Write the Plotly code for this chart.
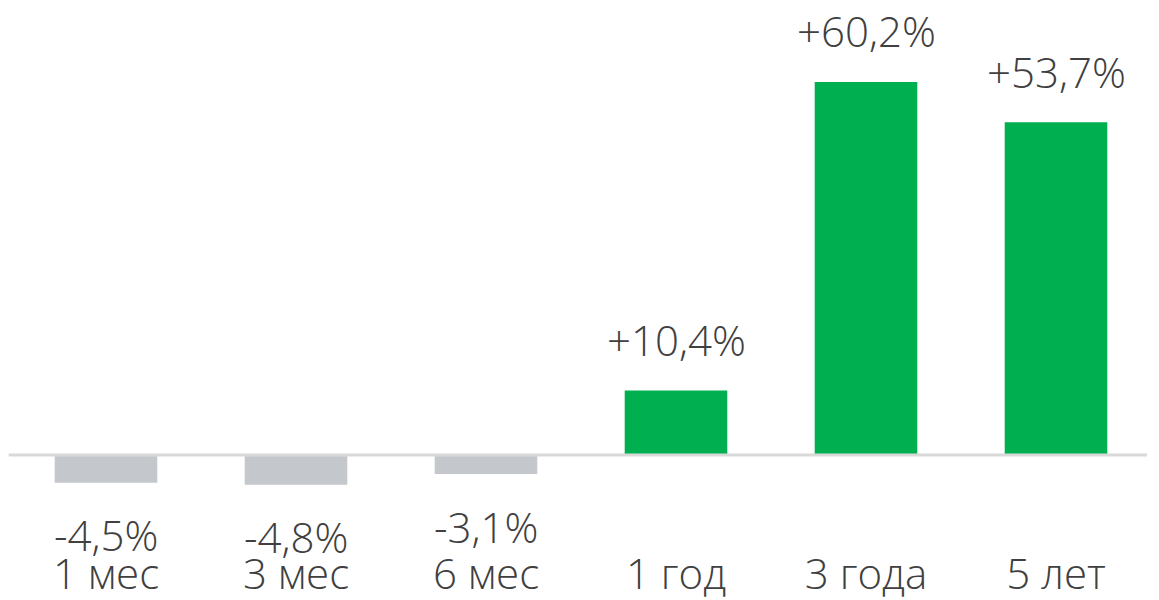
import plotly.graph_objects as go

categories = ["1 мес", "3 мес", "6 мес", "1 год", "3 года", "5 лет"]
values = [-4.5, -4.8, -3.1, 10.4, 60.2, 53.7]
labels = ["-4,5%", "-4,8%", "-3,1%", "+10,4%", "+60,2%", "+53,7%"]

GREEN = "#00b050"
GREY = "#c4c8cc"
TEXT = "#404040"
FONT = "Open Sans"
FSIZE = 42

colors = [GREEN if v > 0 else GREY for v in values]

fig = go.Figure()
fig.add_trace(go.Bar(
    x=categories, y=values, marker=dict(color=colors, line=dict(width=0)),
    width=0.54, hoverinfo="skip",
))

for c, v, t in zip(categories, values, labels):
    fig.add_annotation(
        x=c, y=v, text=t, showarrow=False,
        yanchor="middle", yshift=(51 if v > 0 else -52),
        font=dict(family=FONT, size=FSIZE, color=TEXT, weight=300),
    )

fig.add_shape(type="line", xref="paper", yref="y", x0=-0.002, x1=0.9965, y0=0, y1=0,
              line=dict(color="#d9d9d9", width=3), layer="above")

fig.update_layout(
    width=1159, height=600,
    margin=dict(l=3, r=16, t=20, b=62, autoexpand=False),
    paper_bgcolor="white", plot_bgcolor="white",
    showlegend=False,
    bargap=0.46,
    xaxis=dict(showgrid=False, zeroline=False, showline=False, ticks="",
               automargin=False,
               tickfont=dict(family=FONT, size=FSIZE, color=TEXT, weight=300)),
    yaxis=dict(range=[-14.7, 68.9], visible=False, showgrid=False, zeroline=False,
               automargin=False),
)

fig.write_html("out.html")
